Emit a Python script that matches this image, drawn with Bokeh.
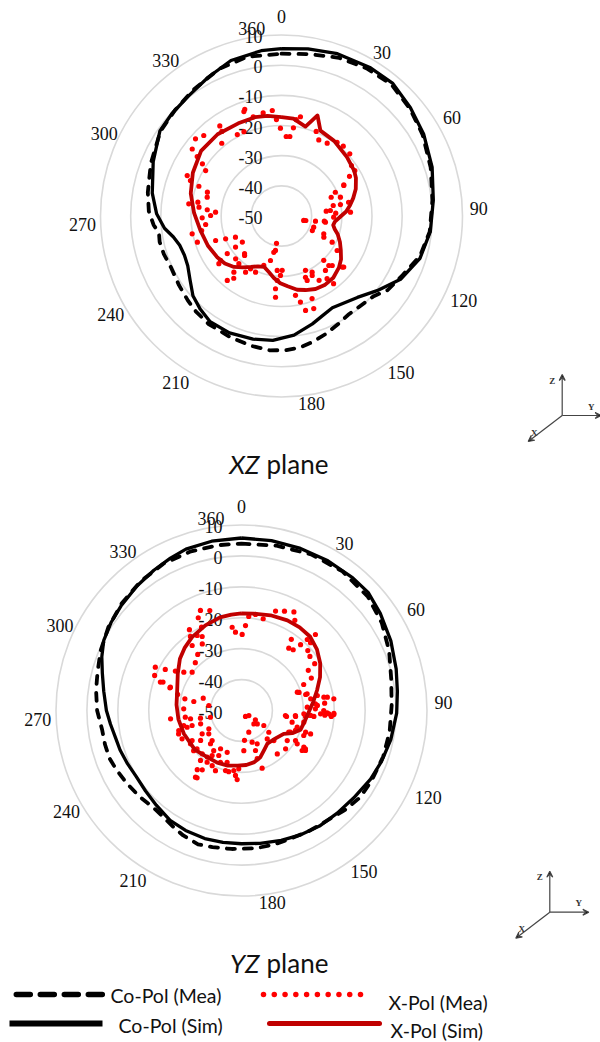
import numpy as np
from bokeh.plotting import figure
from bokeh.models import Range1d, Arrow, VeeHead
from bokeh.embed import file_html
from bokeh.resources import INLINE
from bokeh.core.properties import value

# ---------------- data ----------------
DB_MIN, DB_MAX = -50, 10
RING_DB = [-40, -30, -20, -10, 0, 10]
DB_TICK_VALUES = [-50, -40, -30, -20, -10, 0, 10]
DB_TICK_LABELS = ["-50", "-40", "-30", "-20", "-10", "0", "10"]
ANGLE_TICK_LABELS = ["0", "30", "60", "90", "120", "150", "180", "210", "240", "270", "300", "330", "360"]
# where each angle tick label sits (bearing in degrees, radius as a fraction of the outer ring)
ANGLE_LABEL_BEARING = [0, 31.6, 60, 87.8, 114.9, 142.7, 170.9, 212.5, 240, 267.5, 295, 323.3, 351]
ANGLE_LABEL_RADIUS = [1.10, 1.06, 1.087, 1.09, 1.11, 1.09, 1.05, 1.088, 1.09, 1.10, 1.08, 1.07, 1.048]

# XZ plane
XZ_CO_SIM_ANG = [0, 9, 19, 31, 40, 50, 60, 72, 84, 96, 107, 118, 128, 137, 145, 151, 158, 164, 174, 184,
                 193, 204, 214, 221, 228, 235, 242, 248, 254, 259, 264, 271, 280, 293, 305, 313, 322, 332, 342, 353]
XZ_CO_SIM_DB = [5.5, 6.1, 6.9, 7.3, 7.4, 5.8, 4.4, 2.5, 0.6, -0.4, -2.0, -5.3, -9.8, -13.1, -14.6, -15.2, -14.2, -12.8, -10.3, -8.7,
                -8.1, -7.6, -7.7, -9.0, -10.5, -13.0, -14.8, -15.3, -14.9, -13.5, -11.0, -8.6, -6.5, -3.8, -0.8, -0.3, 0.3, 2.0, 4.2, 5.2]

XZ_CO_MEA_ANG = [0, 10, 20, 30, 40, 50, 60, 72, 84, 96, 106, 116, 125, 131, 138, 146, 152, 159, 166, 172, 178,
                 185, 193, 203, 214, 222, 228, 236, 245, 252, 258, 262, 266, 272, 280, 292, 305, 315, 325, 337, 348]
XZ_CO_MEA_DB = [3.8, 4.5, 5.8, 6.5, 6.8, 5.5, 4.0, 2.0, 0.3, -0.6, -2.2, -5.3, -7.1, -9.5, -10.3, -10.5, -9.6, -8.3, -7.0, -6.0, -5.5,
                -5.3, -5.8, -6.4, -6.8, -7.5, -8.2, -9.0, -9.6, -9.0, -8.7, -9.0, -7.5, -6.0, -5.0, -3.3, -1.0, -0.2, 1.0, 3.0, 4.0]

XZ_X_SIM_ANG = [0, 7, 15, 19.7, 24.5, 35, 48, 58, 63, 70, 76, 81, 86, 91, 96, 100, 104, 108, 114, 120, 126, 132,
                140, 148, 155, 162, 168, 175, 181, 187, 193, 199, 205, 211, 217, 223, 230, 237, 248, 260, 272,
                284, 296, 309, 322, 335, 345, 352]
XZ_X_SIM_DB = [-17.2, -17.5, -19.3, -14.6, -18.9, -19.6, -20.8, -21.6, -22.3, -23.8, -25.5, -27.0, -28.5, -30.6, -32.2, -32.6,
               -31.8, -30.4, -28.8, -27.3, -25.6, -24.4, -23.3, -23.0, -23.3, -24.2, -25.0, -26.6, -27.7, -29.3, -31.0, -32.2,
               -31.6, -30.3, -28.7, -26.9, -25.5, -24.7, -23.7, -22.7, -21.0, -19.0, -17.3, -15.7, -15.6, -16.1, -16.1, -16.5]

XZ_X_MEA_ANG = [341, 340.2, 344.1, 349.9, 355, 357, 359.3, 3.4, 6, 7.7, 10.8, 8.7, 22.3, 26.1, 32.1, 37, 41.5, 47.7,
                54.2, 58.2, 59.7, 63.4, 66.2, 69.3, 72.3, 79, 78.5, 83.6, 83.9, 87, 91.3, 101.4, 100.5, 98.7, 96.9, 109.1,
                325.6, 324.8, 331.5, 336, 320.6, 316, 311.9, 306.9, 305.2, 303.4, 300.9, 293.2, 291.3, 289.8, 287.8,
                284.2, 277.5, 279.4, 276.1, 274.8, 273.3, 270.4, 268.7, 263.6, 259.7,
                258.7, 252.7, 249.6, 247.8, 245.3, 236.3, 235.9, 235.2, 227, 224.4, 223.1, 233.9, 232.7, 221.8, 212.6,
                210.4, 204.8, 220.3, 220.1, 217.5, 199.7, 193.9, 189.9, 190.4, 192, 184.5, 179.3, 184.7, 183.8, 181,
                184.2, 170, 156.2, 151.4, 158.3, 159.7, 167.6, 165.7, 160.8, 136.4, 136.3, 121.8, 130.1, 142.4, 144,
                149.7, 112.8, 63.9, 78.4, 86.8, 98, 115.3, 116.6, 117.3, 134.3, 129.4, 141.1, 158.6, 152.7]
XZ_X_MEA_DB = [-12.6, -13.2, -15.8, -15.3, -14.9, -18, -20.9, -23.6, -23.5, -20.5, -16.5, -17.7, -19.7, -21.9, -21.5, -19.4,
               -19.1, -19.4, -21.4, -21.4, -23.9, -26.9, -30.5, -32.4, -29.5, -30.1, -32.5, -33.7, -35.1, -32, -32.7,
               -42.5, -41.8, -38.6, -35.7, -38.7,
               -13.8, -15.7, -19.3, -19.4, -18.8, -12.9, -11.7, -13, -15.8, -18.6, -20.7, -16, -17.6, -20.9, -24.2,
               -24.6, -19, -21.9, -22.5, -25.3, -28.1, -26.5, -23.7, -24.7, -23.1,
               -19.8, -20.8, -26.7, -30, -33.2, -34.4, -31.6, -28.1, -29.2, -32.5, -32.1, -25, -23.9, -28.8, -27.9,
               -29.7, -29.5, -25.6, -22.1, -24, -32.6, -34.8, -38.4, -40.8, -37.7, -31.9, -32, -25.8, -28.6, -30.3,
               -23, -23.3, -30.3, -28.8, -27, -20.8, -20.8, -17.7, -17.5, -29.7, -27.3, -28.3, -23.7, -21.7, -24.3,
               -25.3, -34.8, -27, -27.3, -27.1, -35.3, -38.7, -34.3, -31.1, -26.5, -23.3, -26.8, -28.2, -27.8]

# YZ plane
YZ_CO_SIM_ANG = [0, 10, 20, 30, 40, 47, 55, 65, 75, 83, 91, 101, 110, 118, 128, 137, 146, 155, 163, 172, 180,
                 188, 196, 205, 213, 222, 230, 238, 245, 252, 258, 264, 270, 278, 285, 291, 297, 304, 311, 320,
                 328, 335, 341, 350]
YZ_CO_SIM_DB = [5.8, 5.8, 5.8, 5.9, 6.0, 6.0, 4.8, 3.3, 1.8, 0.8, 0.2, -0.8, -1.8, -2.7, -4.0, -4.6, -4.9, -5.5, -6.1, -6.6, -6.9,
                -6.9, -6.9, -7.2, -7.6, -8.8, -9.5, -9.8, -9.3, -8.7, -8.3, -7.4, -6.3, -5.0, -3.4, -1.6, 0.0, 0.9, 1.6, 2.6,
                3.5, 4.4, 5.2, 5.6]

YZ_CO_MEA_ANG = [0, 12, 24, 36, 48, 58, 68, 78, 88, 98, 108, 118, 126, 134, 142, 150, 158, 166, 174, 184, 192,
                 198, 205, 210, 216, 222, 230, 238, 245, 250, 256, 262, 270, 278, 285, 293, 302, 312, 322, 332, 342, 352]
YZ_CO_MEA_DB = [4.0, 4.5, 5.3, 5.6, 5.0, 3.5, 1.5, -0.5, -1.4, -1.6, -1.8, -2.2, -2.4, -3.6, -4.9, -5.3, -5.6, -5.4, -5.2, -5.1, -4.8,
                -4.5, -5.4, -6.3, -7.2, -7.6, -6.8, -6.0, -5.2, -4.6, -4.5, -4.5, -3.3, -2.5, -1.8, -0.5, 0.8, 2.0, 3.0, 3.8, 4.0, 4.0]

YZ_X_SIM_ANG = [0, 7, 17, 27, 35, 43, 51, 59, 67, 75, 83, 91, 100, 108, 114, 119, 130, 142, 150, 158, 166, 175,
                184, 194, 205, 216, 230, 248, 262, 275, 284, 290, 300, 310, 318, 326, 337, 347, 354]
YZ_X_SIM_DB = [-18.6, -18.4, -17.8, -17.3, -17.2, -17.4, -18.6, -20.3, -22.4, -24.7, -26.6, -28.2, -29.3, -29.9, -32.0, -34.4,
               -35.8, -36.4, -35.3, -33.7, -32.8, -32.3, -32.1, -31.6, -31.4, -31.3, -30.3, -29.9, -29.4, -28.9, -28.5,
               -27.9, -26.2, -24.0, -22.6, -21.4, -20.1, -19.1, -18.8]

YZ_X_MEA_ANG = [337.7, 342.4, 335, 334.4, 353.6, 355.6, 0.5, 2.7, 4.4, 8.3, 13.3, 18.9, 23.4, 28, 30.6, 35, 37.2, 40.4,
                41.9, 42.8, 45.5, 44.2, 47.9, 51.7, 57.4, 59, 65.1, 67.3, 72.6, 76, 81.2, 82.8, 85, 86.2, 91.5, 91.7,
                327.2, 325.4, 329.4, 332, 322.8, 329.5, 322, 316, 296.7, 292, 298.3, 300.8, 303.6, 307.8, 289.9, 287.6,
                284.1, 281.7, 280.7, 287.8, 278.7, 271.7, 263.3, 260.8, 259.4, 257.8, 146, 123.6, 97.6, 96.3, 95.4, 94.7,
                93.2, 93.8,
                255.4, 253.1, 252, 240.8, 249.6, 239.3, 234.5, 244.5, 236.9, 233.8, 223, 230, 222.2, 208.7, 198.9, 206.8,
                213.1, 219.4, 213.6, 202.1, 195.5, 216.8, 213.5, 203.4, 194.9, 191.8, 182.7, 213.4, 185.3, 183.6, 160.3,
                162, 160.7, 154.8, 161.4, 176.7, 174.3, 161.4, 137.2, 130.3, 123.9, 128.5, 137.8, 132.9, 140.5, 131,
                123.3, 114.6, 119.1, 120.9, 123.4, 120.9, 110.3, 111.9, 108.7, 96.5, 95.3, 94.4, 92.4, 92.2, 92.5, 88.7,
                90, 124.4,
                289.3, 288.2, 263.2, 252.3, 252.9, 238.7, 224.3, 229.2, 216.3, 214.7, 208, 187.3, 214.6,
                71.8, 75.7, 80.4, 78.8, 80.8, 84.8, 87.1, 93, 94.1, 103, 100.6, 106.7, 108.7, 113.9, 120.5, 122]
YZ_X_MEA_DB = [-15.0, -16.1, -16.9, -20.1, -22.9, -24.6, -25.4, -22.5, -19.5, -18.6, -19.5, -16.0, -15.0, -13.9, -16.1, -21.9,
               -24.7, -24.2, -21.4, -18.7, -18.7, -15.7, -21.1, -21.8, -21.9, -24.8, -25.1, -28.2, -30.5, -28.6, -21.9,
               -19.9, -23.0, -25.4, -22.3, -20.1,
               -18.9, -20.9, -21.8, -22.9, -23.6, -25, -27, -28.5, -18.8, -19.7, -22, -25.1, -27.6, -29.8, -23, -25.7,
               -28.7, -31.3, -34.3, -37, -39.3, -31.3, -26.9, -33.3, -36.5, -39.7, -47.7, -44.6, -35.3, -32.4, -29.2,
               -26.5, -23, -20.9,
               -30.7, -33.3, -36.1, -37.9, -28.3, -35.2, -37, -28.7, -30.3, -33.6, -35.3, -29.8, -31.1, -35.9, -35.7,
               -33.7, -32.6, -29.1, -29.9, -31.9, -32.6, -26.1, -27, -28.8, -29.9, -29.8, -31.1, -23.9, -28.9, -27.6,
               -30.2, -33.6, -36.3, -38.1, -39.2, -37, -40.3, -42.6, -44.1, -43.3, -41.3, -38.7, -37.6, -35.7, -31.8,
               -31.1, -32.3, -33.2, -30, -29, -26.5, -25.9, -31.4, -28.3, -26.4, -35.7, -32.5, -28.7, -24.4, -21.7,
               -20.1, -26.1, -23.4, -47.1,
               -22.2, -25.8, -31.7, -28.7, -31.6, -31.3, -36.4, -31, -31.3, -34.2, -29.8, -30.4, -23.8,
               -31, -28.1, -27.3, -25, -23, -26, -28.7, -29.8, -27.6, -33.2, -29.5, -31.2, -28.1, -32.7, -26.6, -25.6]

PANELS = [
    dict(name="XZ", cx=281.0, cy=215.5, R=181.0, title_y=463, axes_origin=(561.7, 415.0),
         co_sim=(XZ_CO_SIM_ANG, XZ_CO_SIM_DB), co_mea=(XZ_CO_MEA_ANG, XZ_CO_MEA_DB),
         x_sim=(XZ_X_SIM_ANG, XZ_X_SIM_DB), x_mea=(XZ_X_MEA_ANG, XZ_X_MEA_DB)),
    dict(name="YZ", cx=241.0, cy=710.0, R=185.5, title_y=962, axes_origin=(549.3, 911.7),
         co_sim=(YZ_CO_SIM_ANG, YZ_CO_SIM_DB), co_mea=(YZ_CO_MEA_ANG, YZ_CO_MEA_DB),
         x_sim=(YZ_X_SIM_ANG, YZ_X_SIM_DB), x_mea=(YZ_X_MEA_ANG, YZ_X_MEA_DB)),
]

BLACK = "#000000"
SIM_RED = "#C00000"
MEA_RED = "#FF0000"
RING_GRAY = "#D9D9D9"
SERIF = value("Liberation Serif")
SANS = value("Lato")

W, H = 600, 1042
p = figure(width=W, height=H, x_range=Range1d(0, W), y_range=Range1d(H, 0),
           output_backend="svg", toolbar_location=None, x_axis_type=None, y_axis_type=None,
           min_border=0, min_border_left=0, min_border_right=0, min_border_top=0, min_border_bottom=0)
p.grid.visible = False
p.outline_line_color = None
p.background_fill_color = "white"
p.border_fill_color = "white"


def to_xy(ang, db, pan, close=False):
    ang = np.asarray(ang, float)
    db = np.asarray(db, float)
    if close:
        ang = np.append(ang, ang[0])
        db = np.append(db, db[0])
    r = (np.clip(db, DB_MIN, DB_MAX) - DB_MIN) / (DB_MAX - DB_MIN) * pan["R"]
    t = np.radians(ang)
    return pan["cx"] + r * np.sin(t), pan["cy"] - r * np.cos(t)


for pan in PANELS:
    cx, cy, R = pan["cx"], pan["cy"], pan["R"]
    scale = R / (DB_MAX - DB_MIN)
    ring_r = [(d - DB_MIN) * scale for d in RING_DB]
    p.circle(x=[cx] * len(ring_r), y=[cy] * len(ring_r), radius=ring_r,
             fill_color=None, line_color=RING_GRAY, line_width=1.6)

    # dB tick labels along the vertical spoke
    p.text(x=[cx - 19] * len(DB_TICK_VALUES),
           y=[cy - (d - DB_MIN) * scale + 1.5 for d in DB_TICK_VALUES],
           text=DB_TICK_LABELS, text_font=SERIF, text_font_size="18px",
           text_align="right", text_baseline="middle", text_color="#111111")

    # angle tick labels
    tb = np.radians(ANGLE_LABEL_BEARING)
    tr = np.array(ANGLE_LABEL_RADIUS) * R
    p.text(x=cx + tr * np.sin(tb), y=cy - tr * np.cos(tb), text=ANGLE_TICK_LABELS,
           text_font=SERIF, text_font_size="18px", text_align="center",
           text_baseline="middle", text_color="#111111")

    # co-pol
    x, y = to_xy(*pan["co_mea"], pan, close=True)
    p.line(x, y, line_color=BLACK, line_width=3.8, line_dash="8 9", line_cap="round", line_join="round")
    x, y = to_xy(*pan["co_sim"], pan, close=True)
    p.line(x, y, line_color=BLACK, line_width=3.3, line_join="round")

    # x-pol
    x, y = to_xy(*pan["x_mea"], pan)
    p.scatter(x, y, size=5.2, fill_color=MEA_RED, line_color=None)
    x, y = to_xy(*pan["x_sim"], pan, close=True)
    p.line(x, y, line_color=SIM_RED, line_width=3.8, line_join="round")

    # title
    p.text(x=[259], y=[pan["title_y"]], text=[pan["name"]], text_font=SANS, text_font_size="26px",
           text_font_style="italic", text_align="right", text_baseline="middle", text_color="#111111")
    p.text(x=[266], y=[pan["title_y"]], text=["plane"], text_font=SANS, text_font_size="26px",
           text_align="left", text_baseline="middle", text_color="#111111")

    # coordinate system glyph
    ox, oy = pan["axes_origin"]
    ends = [(ox, oy - 41), (ox + 39, oy), (ox - 34, oy + 26)]
    for ex, ey in ends:
        p.add_layout(Arrow(end=VeeHead(size=6, line_color="#444444", line_width=1.2),
                           x_start=ox, y_start=oy, x_end=ex, y_end=ey,
                           line_color="#444444", line_width=1.2))
    p.text(x=[ox - 10, ox + 29, ox - 28], y=[oy - 35, oy - 9, oy + 17], text=["Z", "Y", "X"],
           text_font=SERIF, text_font_size="9px", text_font_style="bold",
           text_align="center", text_baseline="middle", text_color="#333333")

# ---------------- legend ----------------
p.line([15.8, 102], [994, 994], line_color=BLACK, line_width=5.5, line_dash="14 10", line_cap="round")
p.line([9, 102], [1023, 1023], line_color=BLACK, line_width=6)
p.scatter(np.linspace(263, 360, 10), [994] * 10, size=5.5, fill_color=MEA_RED, line_color=None)
p.line([269, 379], [1023, 1023], line_color=SIM_RED, line_width=5, line_cap="round")
p.text(x=[110, 118, 388, 390], y=[995, 1025, 1002, 1030],
       text=["Co-Pol (Mea)", "Co-Pol (Sim)", "X-Pol (Mea)", "X-Pol (Sim)"],
       text_font=SANS, text_font_size="19.5px", text_align="left", text_baseline="middle",
       text_color="#111111")

open("out.html", "w").write(file_html(p, INLINE))
